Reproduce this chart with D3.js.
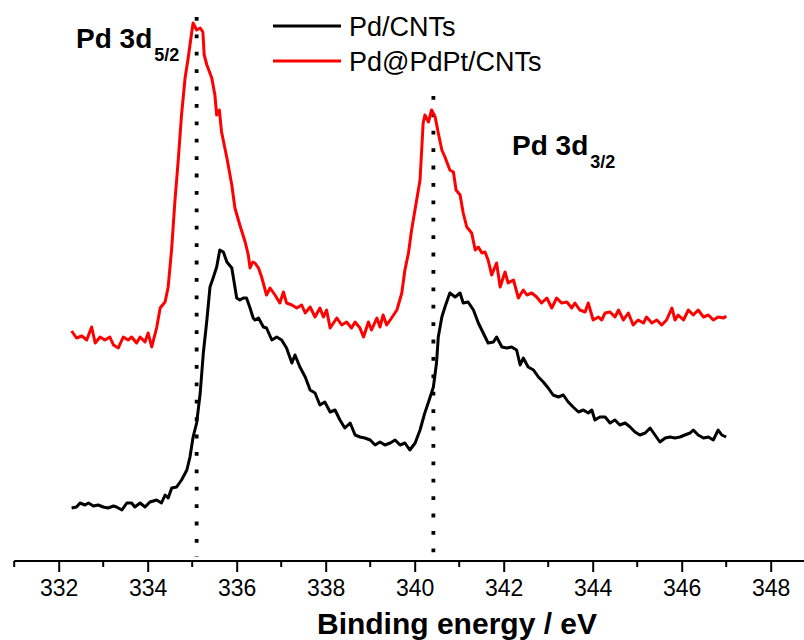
<!DOCTYPE html>
<html lang="en">
<head>
  <meta charset="UTF-8">
  <title>Pd 3d XPS</title>
  <script src="https://d3js.org/d3.v7.min.js"></script>
  <style>
    body { margin: 0; background: #ffffff; overflow: hidden; }
    svg { display: block; font-family: "Liberation Sans", Arial, sans-serif; }
    .curve { fill: none; stroke-width: 3px; stroke-linejoin: round; }
    .axis path, .axis line { stroke: #000; stroke-width: 2px; }
    .axis text { font-size: 23px; fill: #000; font-family: "Liberation Sans", Arial, sans-serif; }
  </style>
</head>
<body>
  <svg id="chart" width="804" height="640"></svg>
  <script>
    // binding energy (eV) / intensity (a.u.)
    const energyPd = [332.29,332.40,332.48,332.59,332.67,332.78,332.89,333.00,333.11,333.23,333.30,333.42,333.53,333.64,333.71,333.83,333.94,334.05,334.20,334.31,334.39,334.46,334.54,334.65,334.76,334.88,334.95,335.02,335.10,335.18,335.25,335.33,335.40,335.47,335.55,335.62,335.70,335.78,335.89,336.00,336.07,336.15,336.22,336.30,336.37,336.41,336.49,336.60,336.67,336.79,336.90,337.01,337.12,337.24,337.31,337.42,337.54,337.65,337.76,337.87,337.98,338.10,338.21,338.32,338.43,338.55,338.66,338.77,338.88,339.00,339.11,339.22,339.33,339.45,339.56,339.67,339.78,339.89,340.01,340.12,340.22,340.34,340.42,340.49,340.53,340.61,340.68,340.79,340.91,341.02,341.09,341.20,341.32,341.43,341.54,341.65,341.77,341.84,341.96,342.07,342.18,342.29,342.37,342.44,342.55,342.67,342.78,342.89,343.00,343.11,343.23,343.34,343.45,343.56,343.68,343.79,343.90,343.98,344.05,344.16,344.28,344.39,344.50,344.61,344.73,344.84,344.95,345.06,345.18,345.29,345.40,345.51,345.63,345.74,345.85,345.96,346.07,346.19,346.26,346.37,346.49,346.60,346.71,346.82,346.90,347.00];
    const intensityPd = [62,63,67,65,67,64,65,63,62,64,63,60,67,67,63,67,63,68,70,67,75,72,82,83,90,100,113,133,147,177,217,250,283,292,303,320,318,308,302,272,270,272,272,262,252,250,252,243,242,230,233,230,222,207,215,203,193,180,177,165,168,158,160,150,142,147,135,133,132,130,125,128,125,127,130,125,127,120,127,140,156,172,183,207,233,253,263,277,273,277,267,268,260,247,237,227,228,233,223,222,223,220,205,212,203,200,193,188,182,175,173,175,168,163,158,160,157,160,150,153,153,147,150,145,147,143,138,135,137,142,135,128,132,133,132,133,135,137,140,135,132,133,130,140,135,133];

    const energyPdPt = [332.29,332.40,332.52,332.63,332.74,332.82,332.93,333.04,333.15,333.23,333.34,333.45,333.56,333.64,333.75,333.83,333.94,334.01,334.09,334.20,334.28,334.39,334.46,334.54,334.61,334.69,334.76,334.84,334.91,334.99,335.02,335.10,335.18,335.24,335.27,335.33,335.44,335.51,335.55,335.61,335.66,335.78,335.89,335.96,336.07,336.19,336.26,336.30,336.36,336.41,336.49,336.56,336.67,336.75,336.86,336.97,337.05,337.12,337.24,337.35,337.46,337.54,337.65,337.76,337.87,337.95,338.02,338.10,338.25,338.36,338.47,338.58,338.66,338.77,338.85,338.96,339.03,339.15,339.22,339.29,339.37,339.48,339.60,339.71,339.78,339.86,339.93,340.12,340.19,340.23,340.31,340.38,340.46,340.53,340.61,340.68,340.79,340.87,340.93,341.02,341.09,341.17,341.28,341.36,341.43,341.51,341.58,341.65,341.73,341.84,341.92,342.03,342.10,342.22,342.33,342.44,342.52,342.63,342.74,342.85,342.97,343.08,343.19,343.30,343.42,343.53,343.60,343.71,343.83,343.90,344.01,344.13,344.20,344.28,344.39,344.50,344.58,344.69,344.80,344.91,345.02,345.14,345.21,345.33,345.44,345.55,345.66,345.78,345.85,345.92,346.04,346.15,346.26,346.37,346.49,346.60,346.71,346.82,346.94,347.00];
    const intensityPdPt = [239,232,234,230,243,227,233,230,233,225,222,233,230,233,227,233,228,237,223,242,262,268,283,322,368,412,455,492,512,538,547,540,542,538,515,505,492,475,455,460,438,412,385,362,345,328,315,302,308,307,302,293,275,282,275,267,278,267,265,262,265,257,263,253,262,253,260,242,252,245,248,242,248,242,233,248,240,252,243,255,245,252,260,277,300,317,340,390,447,455,448,460,453,437,420,413,400,398,380,375,357,343,337,320,323,317,318,310,295,307,283,298,287,290,272,280,275,277,273,267,272,262,272,267,268,262,267,260,258,267,250,253,250,257,258,253,260,250,257,245,250,247,253,247,250,245,250,262,250,255,250,260,255,260,253,255,250,253,252,254];

    const seriesNames = ["Pd/CNTs", "Pd@PdPt/CNTs"];
    const seriesColors = ["#000000", "#ff0000"];
    const majorTicks = [332, 334, 336, 338, 340, 342, 344, 346, 348];
    const minorTicks = [331, 333, 335, 337, 339, 341, 343, 345, 347, 349];
    // peak markers: position (eV), top and bottom of the dotted guide (a.u.)
    const peakPos = [335.1, 340.42];
    const peakTop = [553, 474];
    const peakBottom = [13, 8];

    const svg = d3.select("#chart");

    const x = d3.scaleLinear().domain([331, 349]).range([14.2, 815.2]);
    const y = d3.scaleLinear().domain([0, 560]).range([570, 10]);
    const axisY = 561;

    // dotted guides
    svg.selectAll("line.guide")
      .data(peakPos)
      .enter()
      .append("line")
      .attr("class", "guide")
      .attr("x1", d => x(d))
      .attr("x2", d => x(d))
      .attr("y1", (d, i) => y(peakTop[i]))
      .attr("y2", (d, i) => y(peakBottom[i]))
      .attr("stroke", "#000")
      .attr("stroke-width", 3.8)
      .attr("stroke-dasharray", "3.8,13.6");

    const line = d3.line()
      .x(d => x(d[0]))
      .y(d => y(d[1]));

    const seriesData = [
      d3.zip(energyPd, intensityPd),
      d3.zip(energyPdPt, intensityPdPt)
    ];

    svg.selectAll("path.curve")
      .data(seriesData)
      .enter()
      .append("path")
      .attr("class", "curve")
      .attr("stroke", (d, i) => seriesColors[i])
      .attr("d", line);

    // x axis
    const axisG = svg.append("g")
      .attr("class", "axis")
      .attr("transform", `translate(0,${axisY})`);

    axisG.call(d3.axisBottom(x)
      .tickValues(majorTicks)
      .tickSize(11)
      .tickPadding(8)
      .tickFormat(d3.format("d")));
    axisG.select(".domain").attr("d", `M${x(331)},0H804`);

    axisG.selectAll("line.minor")
      .data(minorTicks)
      .enter()
      .append("line")
      .attr("class", "minor")
      .attr("x1", d => x(d))
      .attr("x2", d => x(d))
      .attr("y1", 0)
      .attr("y2", 6);

    svg.append("text")
      .attr("x", 457)
      .attr("y", 634)
      .attr("text-anchor", "middle")
      .attr("font-size", 30)
      .attr("font-weight", "bold")
      .text("Binding energy / eV");

    // legend
    const legend = svg.selectAll("g.legend")
      .data(seriesNames)
      .enter()
      .append("g")
      .attr("class", "legend")
      .attr("transform", (d, i) => `translate(273,${26 + i * 35})`);

    legend.append("line")
      .attr("x1", 0).attr("x2", 68)
      .attr("stroke", (d, i) => seriesColors[i])
      .attr("stroke-width", 3);

    legend.append("text")
      .attr("x", 76)
      .attr("y", 10)
      .attr("font-size", 27)
      .text(d => d);

    // peak labels
    const labels = [
      { x: 76, y: 48, sub: "5/2" },
      { x: 512, y: 155, sub: "3/2" }
    ];
    const lab = svg.selectAll("text.peak")
      .data(labels)
      .enter()
      .append("text")
      .attr("class", "peak")
      .attr("x", d => d.x)
      .attr("y", d => d.y)
      .attr("font-weight", "bold")
      .attr("font-size", 28);
    lab.append("tspan").text("Pd 3d");
    lab.append("tspan")
      .attr("dy", 13)
      .attr("dx", 2)
      .attr("font-size", 18)
      .text(d => d.sub);
  </script>
</body>
</html>
